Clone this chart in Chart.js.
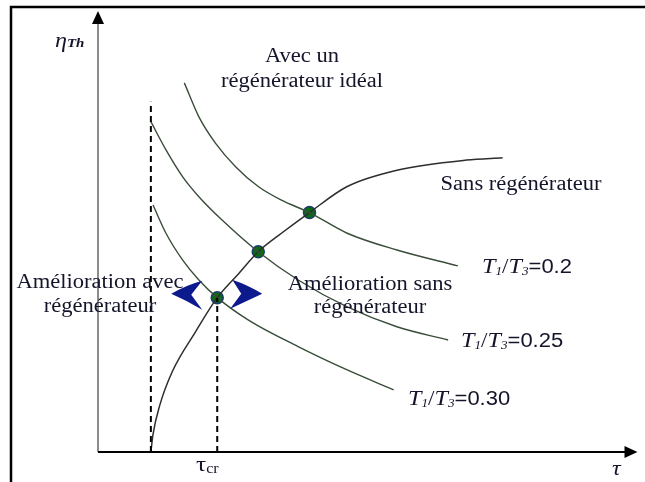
<!DOCTYPE html>
<html>
<head>
<meta charset="utf-8">
<script src="https://cdn.jsdelivr.net/npm/chart.js@4.4.1/dist/chart.umd.min.js"></script>
<style>
  html, body { margin: 0; padding: 0; background: #ffffff; }
  #wrap { width: 645px; height: 482px; position: relative; }
</style>
</head>
<body>
<div id="wrap"><canvas id="c" width="645" height="482"></canvas></div>
<script>
// Pressure ratio τ (arbitrary units) and thermal efficiency η_Th
const tauSans = [0.98, 1.02, 1.14, 1.38, 1.81, 2.21, 2.61, 2.97, 3.40, 3.92, 4.62, 5.54, 6.83, 7.50];
const etaSans = [0.000, 0.040, 0.104, 0.183, 0.273, 0.350, 0.405, 0.454, 0.496, 0.543, 0.602, 0.639, 0.662, 0.667];

// Ideal regenerator, T1/T3 = 0.2
const tau020 = [1.60, 1.87, 2.18, 2.55, 2.97, 3.40, 3.92, 4.62, 5.54, 6.67];
const eta020 = [0.837, 0.760, 0.700, 0.647, 0.602, 0.571, 0.543, 0.496, 0.458, 0.422];

// Ideal regenerator, T1/T3 = 0.25
const tau025 = [0.98, 1.26, 1.57, 1.87, 2.30, 2.97, 3.71, 4.62, 5.54, 6.49];
const eta025 = [0.749, 0.685, 0.624, 0.579, 0.526, 0.454, 0.390, 0.329, 0.284, 0.254];

// Ideal regenerator, T1/T3 = 0.30
const tau030 = [1.02, 1.26, 1.57, 1.87, 2.21, 2.79, 3.71, 4.62, 5.48];
const eta030 = [0.560, 0.496, 0.435, 0.390, 0.350, 0.299, 0.239, 0.186, 0.141];

// Intersections of the two families
const tauCross = [2.21, 2.97, 3.92];
const etaCross = [0.350, 0.454, 0.543];

// Vertical guides: τ = 1 and the critical ratio τ_cr
const tauMin = 0.98, etaMinTop = 0.794;
const tauCr = 2.21, etaCr = 0.350;

const pts = (xs, ys) => xs.map((x, i) => ({ x: x, y: ys[i] }));

const TXT = '#14142a';
const NAVY = '#0d1a8e';

function richText(ctx, x, y, segs, align, sx) {
  sx = sx || 1.1;
  let w = 0;
  segs.forEach(s => { ctx.font = s.font; w += ctx.measureText(s.t).width * sx; });
  let cx = align === 'center' ? x - w / 2 : (align === 'right' ? x - w : x);
  segs.forEach(s => {
    ctx.font = s.font;
    ctx.save();
    ctx.translate(cx, y + (s.dy || 0));
    ctx.scale(sx, 1);
    ctx.fillStyle = s.color || TXT;
    ctx.textBaseline = 'middle';
    ctx.textAlign = 'left';
    ctx.fillText(s.t, 0, 0);
    ctx.restore();
    cx += ctx.measureText(s.t).width * sx;
  });
}

const SERIF = '"Liberation Serif", "Times New Roman", serif';
const SANS = '"Liberation Sans", Arial, sans-serif';
const plain = (t) => [{ t: t, font: '20.5px ' + SERIF }];
const ratioLabel = (v) => [
  { t: 'T', font: 'italic 22px ' + SERIF },
  { t: '1', font: 'italic 12px ' + SERIF, dy: 5 },
  { t: '/', font: '21px ' + SERIF },
  { t: 'T', font: 'italic 22px ' + SERIF },
  { t: '3', font: 'italic 12px ' + SERIF, dy: 5 },
  { t: '=' + v, font: '20px ' + SANS }
];

const decor = {
  id: 'decor',
  beforeDraw(chart) {
    const ctx = chart.ctx;
    ctx.save();
    ctx.fillStyle = '#ffffff';
    ctx.fillRect(0, 0, chart.width, chart.height);
    // outer frame (top and left edges)
    ctx.strokeStyle = '#000';
    ctx.lineWidth = 2.5;
    ctx.beginPath();
    ctx.moveTo(11, 482);
    ctx.lineTo(11, 7);
    ctx.lineTo(645, 7);
    ctx.stroke();
    ctx.restore();
  },
  afterDatasetsDraw(chart) {
    const ctx = chart.ctx;
    const a = chart.chartArea;
    const xs = chart.scales.x, ys = chart.scales.y;
    const x0 = xs.getPixelForValue(0), y0 = ys.getPixelForValue(0);
    ctx.save();
    // y axis
    ctx.strokeStyle = '#8c8c8c';
    ctx.lineWidth = 2;
    ctx.beginPath();
    ctx.moveTo(x0, y0);
    ctx.lineTo(x0, a.top + 12);
    ctx.stroke();
    ctx.fillStyle = '#000';
    ctx.beginPath();
    ctx.moveTo(x0, a.top);
    ctx.lineTo(x0 + 6, a.top + 13);
    ctx.lineTo(x0 - 6, a.top + 13);
    ctx.closePath();
    ctx.fill();
    // x axis
    ctx.strokeStyle = '#000';
    ctx.lineWidth = 2;
    ctx.beginPath();
    ctx.moveTo(x0, y0);
    ctx.lineTo(a.right - 12, y0);
    ctx.stroke();
    ctx.beginPath();
    ctx.moveTo(a.right, y0);
    ctx.lineTo(a.right - 13, y0 - 6);
    ctx.lineTo(a.right - 13, y0 + 6);
    ctx.closePath();
    ctx.fill();

    // chevrons either side of the critical point
    const px = xs.getPixelForValue(tauCr), py = ys.getPixelForValue(etaCr);
    ctx.fillStyle = NAVY;
    ctx.beginPath();
    ctx.moveTo(px - 46, py - 4);
    ctx.quadraticCurveTo(px - 30, py - 13, px - 15, py - 17);
    ctx.lineTo(px - 26, py - 3);
    ctx.lineTo(px - 15, py + 12);
    ctx.quadraticCurveTo(px - 30, py + 3, px - 46, py - 4);
    ctx.closePath();
    ctx.fill();
    ctx.beginPath();
    ctx.moveTo(px + 45, py - 4);
    ctx.quadraticCurveTo(px + 30, py - 13, px + 15, py - 18);
    ctx.lineTo(px + 24, py - 4);
    ctx.lineTo(px + 13, py + 11);
    ctx.quadraticCurveTo(px + 30, py + 3, px + 45, py - 4);
    ctx.closePath();
    ctx.fill();

    // labels
    richText(ctx, 302, 57, plain('Avec un'), 'center');
    richText(ctx, 302, 82, plain('régénérateur idéal'), 'center');
    richText(ctx, 521, 185, plain('Sans régénérateur'), 'center');
    richText(ctx, 100, 283, plain('Amélioration avec'), 'center');
    richText(ctx, 100, 307, plain('régénérateur'), 'center');
    richText(ctx, 370, 285, plain('Amélioration sans'), 'center');
    richText(ctx, 370, 308, plain('régénérateur'), 'center');
    richText(ctx, 482, 267, ratioLabel('0.2'), 'left');
    richText(ctx, 461, 341, ratioLabel('0.25'), 'left');
    richText(ctx, 408, 399, ratioLabel('0.30'), 'left');
    richText(ctx, 55, 41, [
      { t: 'η', font: 'italic 21px ' + SERIF },
      { t: 'Th', font: 'italic bold 13px ' + SERIF, dy: 3 }
    ], 'left', 1.15);
    richText(ctx, 196, 465, [
      { t: 'τ', font: '22px ' + SERIF },
      { t: 'cr', font: '14px ' + SERIF, dy: 4 }
    ], 'left', 1.15);
    richText(ctx, 612, 469, [{ t: 'τ', font: 'italic 22px ' + SERIF }], 'left', 1.1);
    ctx.restore();
  }
};

const hyper = { borderColor: '#3a4d3a', borderWidth: 1.4, pointRadius: 0, cubicInterpolationMode: 'monotone', fill: false };

new Chart(document.getElementById('c'), {
  type: 'line',
  data: {
    datasets: [
      { data: pts([tauMin, tauMin], [0, etaMinTop]), borderColor: '#000', borderWidth: 2, borderDash: [6, 4], pointRadius: 0 },
      { data: pts([tauCr, tauCr], [0, etaCr]), borderColor: '#000', borderWidth: 2, borderDash: [6, 4], pointRadius: 0 },
      Object.assign({ data: pts(tau020, eta020) }, hyper),
      Object.assign({ data: pts(tau025, eta025) }, hyper),
      Object.assign({ data: pts(tau030, eta030) }, hyper),
      { data: pts(tauSans, etaSans), borderColor: '#2e2e2e', borderWidth: 1.5, pointRadius: 0, cubicInterpolationMode: 'monotone' },
      { data: pts(tauCross, etaCross), showLine: false, pointRadius: 6, pointBackgroundColor: '#0a6b12', pointBorderColor: '#1d3b6e', pointBorderWidth: 1.5 }
    ]
  },
  options: {
    responsive: false,
    animation: false,
    events: [],
    layout: { padding: { left: 98, right: 2, top: 11, bottom: 30 } },
    plugins: { legend: { display: false }, tooltip: { enabled: false } },
    scales: {
      x: { type: 'linear', min: 0, max: 10, display: false },
      y: { type: 'linear', min: 0, max: 1, display: false }
    }
  },
  plugins: [decor]
});
</script>
</body>
</html>
